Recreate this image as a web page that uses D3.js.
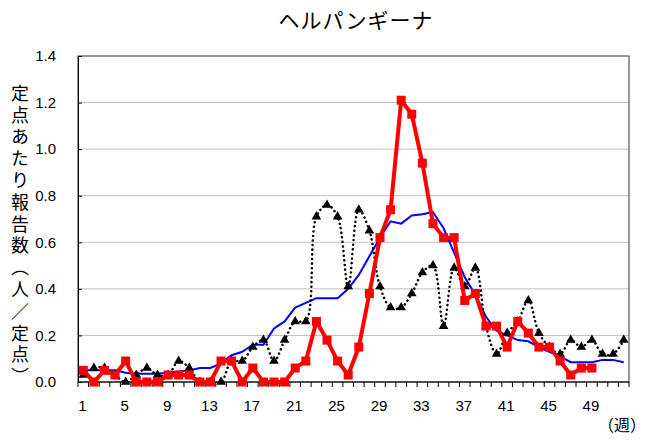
<!DOCTYPE html>
<html>
<head>
<meta charset="utf-8">
<script src="https://d3js.org/d3.v7.min.js"></script>
<style>
  body { margin: 0; background: #fff; }
  text { font-family: "Liberation Sans", Arial, sans-serif; }
  .jp { font-family: "Noto Sans CJK JP", sans-serif; }
</style>
</head>
<body>
<div id="chart"></div>
<script>
// weeks 1..52
var weeks = d3.range(1, 53);
var tickWeeks = [1, 5, 9, 13, 17, 21, 25, 29, 33, 37, 41, 45, 49];
var yTicks = [0, 0.2, 0.4, 0.6, 0.8, 1.0, 1.2, 1.4];

// this year (red, ends at week 49)
var thisYear = [0.05, 0, 0.05, 0.03, 0.09, 0, 0, 0, 0.03, 0.03,
    0.03, 0, 0, 0.09, 0.09, 0, 0.06, 0, 0, 0,
    0.06, 0.09, 0.26, 0.18, 0.09, 0.03, 0.15, 0.38, 0.62, 0.74,
    1.21, 1.15, 0.94, 0.68, 0.62, 0.62, 0.35, 0.38, 0.24, 0.24,
    0.15, 0.26, 0.21, 0.15, 0.15, 0.09, 0.03, 0.06, 0.06];

// last year (black dotted)
var lastYear = [0.03, 0.06, 0.06, 0.03, 0, 0.03, 0.06, 0.03, 0.03, 0.09,
    0.06, 0, 0, 0, 0.09, 0.09, 0.15, 0.18, 0.09, 0.18,
    0.26, 0.26, 0.71, 0.76, 0.71, 0.41, 0.74, 0.65, 0.41, 0.32,
    0.32, 0.38, 0.47, 0.50, 0.24, 0.49, 0.41, 0.49, 0.24, 0.12,
    0.21, 0.26, 0.35, 0.21, 0.15, 0.12, 0.18, 0.15, 0.18, 0.12,
    0.12, 0.18];

// average of past years (blue)
var pastAvg = [0.05, 0.05, 0.05, 0.05, 0.04, 0.035, 0.035, 0.035, 0.04, 0.045,
    0.05, 0.06, 0.06, 0.08, 0.115, 0.13, 0.16, 0.16, 0.23, 0.26,
    0.32, 0.34, 0.36, 0.36, 0.36, 0.40, 0.46, 0.54, 0.62, 0.69,
    0.68, 0.715, 0.72, 0.73, 0.66, 0.555, 0.45, 0.375, 0.28, 0.22,
    0.20, 0.18, 0.175, 0.15, 0.13, 0.11, 0.085, 0.085, 0.085, 0.095,
    0.095, 0.085];

var yTitle = "定点あたり報告数（人／定点）";

var width = 651, height = 443;
var margin = {top: 56, right: 22, bottom: 61, left: 78};
var chartWidth = width - margin.left - margin.right;
var chartHeight = height - margin.top - margin.bottom;

var svg = d3.select("#chart").append("svg")
    .attr("width", width)
    .attr("height", height);

var g = svg.append("g")
    .attr("transform", `translate(${margin.left}, ${margin.top})`);

var xScale = d3.scaleBand().domain(weeks).range([0, chartWidth]);
var xMap = function(d, i) { return xScale(weeks[i]) + xScale.bandwidth() / 2; };
var yScale = d3.scaleLinear().domain([0, 1.4]).range([chartHeight, 0]);

// gridlines
g.selectAll(".grid")
    .data(yTicks.slice(1, -1))
    .enter()
    .append("line")
    .attr("x1", 0)
    .attr("x2", chartWidth)
    .attr("y1", d => yScale(d))
    .attr("y2", d => yScale(d))
    .style("stroke", "#c0c0c0")
    .style("stroke-width", 1);

// frame
g.append("rect")
    .attr("width", chartWidth)
    .attr("height", chartHeight)
    .style("fill", "none")
    .style("stroke", "#333")
    .style("stroke-width", 1);

// y axis
var yAxis = d3.axisLeft(yScale)
    .tickValues(yTicks)
    .tickSize(-4)
    .tickPadding(22)
    .tickFormat(d3.format(".1f"));
g.append("g")
    .call(yAxis)
    .call(a => a.select(".domain").style("stroke", "#000"))
    .selectAll("text")
    .style("font-size", "15px")
    .style("fill", "#000");

// x axis: ticks on category boundaries
var xAxisG = g.append("g")
    .attr("transform", `translate(0, ${chartHeight})`);
xAxisG.append("line")
    .attr("x1", 0).attr("x2", chartWidth)
    .style("stroke", "#000");
xAxisG.selectAll(".xtick")
    .data(weeks.concat([53]))
    .enter()
    .append("line")
    .attr("x1", d => d <= 52 ? xScale(d) : chartWidth)
    .attr("x2", d => d <= 52 ? xScale(d) : chartWidth)
    .attr("y1", 0)
    .attr("y2", 5)
    .style("stroke", "#000");
xAxisG.selectAll(".xlabel")
    .data(tickWeeks)
    .enter()
    .append("text")
    .attr("x", d => xScale(d) + xScale.bandwidth() / 2 - 1)
    .attr("y", 29)
    .style("text-anchor", "middle")
    .style("font-size", "15px")
    .text(d => d);

// lines
var lineStraight = d3.line()
    .x(xMap)
    .y(d => yScale(d));
var lineSmooth = d3.line()
    .x(xMap)
    .y(d => yScale(d))
    .curve(d3.curveCatmullRom.alpha(0.5));

g.append("path")
    .datum(pastAvg)
    .attr("d", lineStraight)
    .style("fill", "none")
    .style("stroke", "#0000ff")
    .style("stroke-width", 2);

g.append("path")
    .datum(lastYear)
    .attr("d", lineSmooth)
    .style("fill", "none")
    .style("stroke", "#000")
    .style("stroke-width", 2.5)
    .style("stroke-linecap", "round")
    .style("stroke-dasharray", "0.1,4.5");

g.selectAll(".tri")
    .data(lastYear)
    .enter()
    .append("path")
    .attr("d", d3.symbol().type(d3.symbolTriangle).size(40))
    .attr("transform", (d, i) => `translate(${xMap(d, i)}, ${yScale(d)})`)
    .style("fill", "#000");

g.append("path")
    .datum(thisYear)
    .attr("d", lineStraight)
    .style("fill", "none")
    .style("stroke", "#ff0000")
    .style("stroke-width", 4)
    .style("stroke-linejoin", "round");

g.selectAll(".sq")
    .data(thisYear)
    .enter()
    .append("rect")
    .attr("x", (d, i) => xMap(d, i) - 4.5)
    .attr("y", d => yScale(d) - 4.5)
    .attr("width", 9)
    .attr("height", 9)
    .style("fill", "#ff0000");

// title
svg.append("text")
    .attr("class", "jp")
    .attr("x", 356)
    .attr("y", 28)
    .style("text-anchor", "middle")
    .style("font-size", "21px")
    .style("letter-spacing", "1px")
    .text("ヘルパンギーナ");

// vertical y title, one text element
svg.append("text")
    .attr("class", "jp")
    .attr("x", 20)
    .attr("y", 84)
    .style("writing-mode", "vertical-rl")
    .style("font-size", "18px")
    .style("letter-spacing", "3.8px")
    .text(yTitle);

// unit label
svg.append("text")
    .attr("class", "jp")
    .attr("x", 622)
    .attr("y", 431)
    .style("text-anchor", "middle")
    .style("font-size", "16px")
    .text("（週）");
</script>
</body>
</html>
